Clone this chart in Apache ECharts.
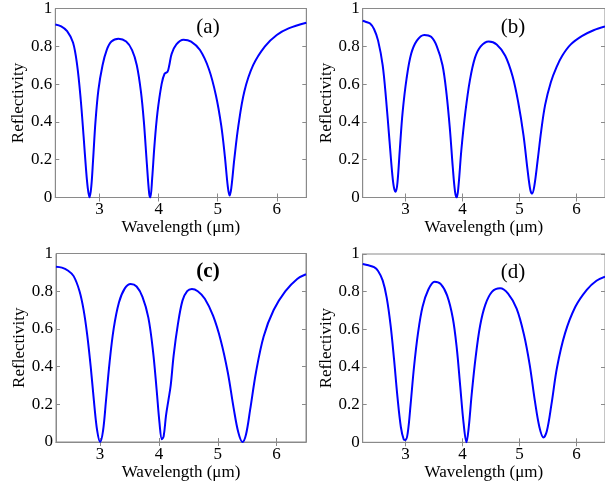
<!DOCTYPE html>
<html>
<head>
<meta charset="utf-8">
<script src="https://cdn.jsdelivr.net/npm/echarts@6/dist/echarts.min.js"></script>
<style>html,body{margin:0;padding:0;background:#fff}#c{width:605px;height:484px}</style>
</head>
<body>
<div id="c"></div>
<script>
// Panel labels
var panelLabels = ['(a)', '(b)', '(c)', '(d)'];
var xTicks = [3, 4, 5, 6];
var yTicks = [0, 0.2, 0.4, 0.6, 0.8, 1];
var xName = 'Wavelength (μm)';
var yName = 'Reflectivity';

// Panel (a)
var ax = [2.25,2.35,2.45,2.55,2.62,2.68,2.73,2.77,2.80,2.83,2.86,2.89,2.93,2.98,3.05,3.12,3.2,3.32,3.45,3.55,3.63,3.70,3.75,3.80,3.84,3.86,3.89,3.93,3.98,4.05,4.10,4.15,4.18,4.22,4.30,4.42,4.55,4.70,4.85,4.97,5.06,5.12,5.17,5.2,5.23,5.28,5.35,5.45,5.6,5.8,6.0,6.2,6.5];
var ay = [0.915,0.905,0.88,0.82,0.70,0.52,0.32,0.15,0.05,0.0,0.06,0.20,0.40,0.57,0.70,0.78,0.825,0.84,0.825,0.78,0.70,0.56,0.40,0.18,0.02,0.0,0.10,0.28,0.45,0.60,0.655,0.665,0.70,0.76,0.81,0.835,0.825,0.78,0.68,0.54,0.38,0.22,0.06,0.01,0.05,0.20,0.38,0.56,0.70,0.80,0.86,0.895,0.925];

// Panel (b)
var bx = [2.25,2.30,2.38,2.45,2.52,2.60,2.66,2.72,2.77,2.80,2.83,2.86,2.90,2.95,3.02,3.10,3.2,3.33,3.45,3.55,3.65,3.72,3.78,3.83,3.87,3.90,3.93,3.98,4.05,4.13,4.22,4.32,4.46,4.6,4.75,4.88,4.98,5.07,5.14,5.19,5.22,5.26,5.32,5.38,5.45,5.55,5.65,5.75,5.9,6.1,6.3,6.5];
var by = [0.935,0.93,0.92,0.89,0.83,0.70,0.52,0.30,0.12,0.05,0.03,0.08,0.25,0.45,0.63,0.76,0.83,0.86,0.85,0.80,0.70,0.55,0.36,0.16,0.03,0.0,0.06,0.25,0.45,0.62,0.74,0.80,0.826,0.81,0.75,0.64,0.50,0.33,0.15,0.04,0.02,0.06,0.20,0.35,0.49,0.61,0.69,0.75,0.81,0.855,0.885,0.905];

// Panel (c)
var cx = [2.25,2.35,2.45,2.55,2.65,2.72,2.78,2.84,2.90,2.95,3.0,3.05,3.10,3.16,3.23,3.32,3.42,3.52,3.62,3.72,3.82,3.90,3.96,4.01,4.05,4.08,4.12,4.16,4.20,4.25,4.32,4.40,4.48,4.56,4.66,4.78,4.92,5.05,5.17,5.27,5.35,5.42,5.48,5.55,5.65,5.78,5.95,6.15,6.35,6.5];
var cy = [0.93,0.925,0.91,0.88,0.80,0.70,0.57,0.40,0.20,0.06,0.0,0.06,0.22,0.42,0.60,0.74,0.815,0.838,0.825,0.77,0.66,0.48,0.28,0.10,0.015,0.03,0.14,0.22,0.30,0.46,0.62,0.75,0.80,0.812,0.80,0.76,0.67,0.54,0.37,0.18,0.05,0.0,0.04,0.17,0.37,0.56,0.70,0.80,0.865,0.89];

// Panel (d)
var dx = [2.25,2.35,2.45,2.52,2.60,2.67,2.74,2.80,2.86,2.92,2.97,3.0,3.04,3.09,3.15,3.22,3.30,3.40,3.51,3.62,3.73,3.83,3.90,3.96,4.02,4.07,4.11,4.16,4.23,4.31,4.40,4.52,4.66,4.80,4.95,5.08,5.18,5.27,5.35,5.42,5.48,5.56,5.66,5.80,5.98,6.18,6.35,6.5];
var dy = [0.947,0.94,0.93,0.91,0.86,0.77,0.62,0.44,0.24,0.08,0.015,0.012,0.05,0.20,0.40,0.58,0.72,0.81,0.853,0.84,0.78,0.66,0.50,0.30,0.10,0.0,0.08,0.25,0.45,0.62,0.73,0.80,0.818,0.79,0.71,0.57,0.41,0.22,0.08,0.026,0.06,0.20,0.40,0.58,0.72,0.81,0.858,0.88];

var seriesX = [ax, bx, cx, dx];
var seriesY = [ay, by, cy, dy];

var grids = [
  {left: 55.3, top: 8, width: 251, height: 189.5},
  {left: 362.7, top: 8, width: 251, height: 189.5},
  {left: 56, top: 253.5, width: 250, height: 188.5},
  {left: 362.7, top: 254, width: 251, height: 188.3}
];
var labelPos = [[208, 27, 'normal'], [513, 27, 'normal'], [208, 272, 'bold'], [513, 272, 'normal']];

var FONT = 'Liberation Serif';
var AX = '#8a8a8a';
var FS = 17;
var option = {
  animation: false,
  backgroundColor: '#fff',
  grid: [], xAxis: [], yAxis: [], series: [], graphic: []
};
for (var i = 0; i < 4; i++) {
  var g = grids[i];
  option.grid.push({left: g.left, top: g.top, width: g.width, height: g.height, show: true, borderColor: AX, borderWidth: 1, backgroundColor: 'transparent', containLabel: false});
  option.xAxis.push({
    type: 'value', gridIndex: i, min: 2.25, max: 6.5, position: 'bottom',
    name: xName, nameLocation: 'middle', nameGap: 20,
    nameTextStyle: {fontFamily: FONT, fontSize: FS, color: '#000'},
    axisLine: {show: true, lineStyle: {color: AX, width: 1}},
    axisTick: {show: true, inside: true, length: 4, customValues: xTicks, lineStyle: {color: AX}},
    axisLabel: {show: true, customValues: xTicks, margin: 4, fontFamily: FONT, fontSize: FS, color: '#000'},
    splitLine: {show: false}
  });
  option.xAxis.push({
    type: 'value', gridIndex: i, min: 2.25, max: 6.5, position: 'top',
    axisLine: {show: true, lineStyle: {color: AX, width: 1}},
    axisTick: {show: true, inside: true, length: 4, customValues: xTicks, lineStyle: {color: AX}},
    axisLabel: {show: false},
    splitLine: {show: false}
  });
  option.yAxis.push({
    type: 'value', gridIndex: i, min: 0, max: 1, interval: 0.2, position: 'left',
    name: yName, nameLocation: 'middle', nameGap: 27, nameRotate: 90,
    nameTextStyle: {fontFamily: FONT, fontSize: FS, color: '#000'},
    axisLine: {show: true, lineStyle: {color: AX, width: 1}},
    axisTick: {show: true, inside: true, length: 4, lineStyle: {color: AX}},
    axisLabel: {show: true, margin: 3, fontFamily: FONT, fontSize: FS, color: '#000'},
    splitLine: {show: false}
  });
  option.yAxis.push({
    type: 'value', gridIndex: i, min: 0, max: 1, interval: 0.2, position: 'right',
    axisLine: {show: true, lineStyle: {color: AX, width: 1}},
    axisTick: {show: true, inside: true, length: 4, lineStyle: {color: AX}},
    axisLabel: {show: false},
    splitLine: {show: false}
  });
  var pts = [];
  for (var k = 0; k < seriesX[i].length; k++) pts.push([seriesX[i][k], seriesY[i][k]]);
  option.series.push({
    type: 'line', xAxisIndex: 2 * i, yAxisIndex: 2 * i, data: pts,
    showSymbol: false, symbol: 'none', smooth: 0.35, clip: true,
    lineStyle: {color: '#0000ff', width: 2}
  });
  option.graphic.push({
    type: 'text', x: labelPos[i][0], y: labelPos[i][1],
    style: {text: panelLabels[i], font: labelPos[i][2] + ' 21px "Liberation Serif"', fill: '#000', textAlign: 'center', textVerticalAlign: 'middle'}
  });
}
var chart = echarts.init(document.getElementById('c'), null, {renderer: 'canvas'});
chart.setOption(option);
</script>
</body>
</html>
